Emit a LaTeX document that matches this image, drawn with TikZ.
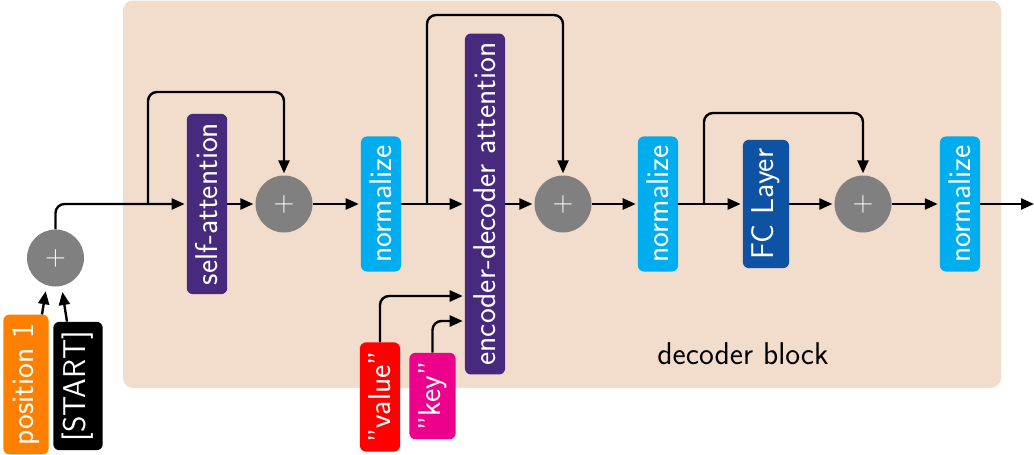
\documentclass[tikz,border=0pt]{standalone}
\usepackage{fontspec}
\usepackage{graphicx}
\usetikzlibrary{arrows.meta,calc}
\definecolor{bgc}{HTML}{F2DCCB}
\definecolor{plusgray}{HTML}{808080}
\definecolor{purp}{HTML}{472A7E}
\definecolor{cyanc}{HTML}{00AEEF}
\definecolor{fcblue}{HTML}{0D52A3}
\definecolor{orangec}{HTML}{FF8000}
\definecolor{redc}{HTML}{FF0000}
\definecolor{magc}{HTML}{EC008C}
\newcommand\rot[1]{\rotatebox{90}{#1}}
\begin{document}
\begin{tikzpicture}[x=1pt,y=-1pt,
  font=\sffamily\fontsize{31.5}{36}\selectfont,
  box/.style={rounded corners=6pt, text=white, inner xsep=9pt, inner ysep=9pt},
  plus/.style={circle, fill=plusgray, minimum size=57pt, inner sep=0pt, text=white, font=\sffamily\fontsize{28.5}{34}\selectfont},
  arr/.style={line width=2.4pt, -{Triangle[length=13pt,width=11pt]}, rounded corners=9pt, shorten >=2pt}]
\useasboundingbox (0,0) rectangle (1034,455);
\fill[bgc, rounded corners=10pt] (123,0.5) rectangle (1001,388);
\node at (743,354) {decoder block};

\node[plus] (p0) at (55.5,258) {+};
\node[box, fill=orangec] (pos) at (26,384.5) {\rot{position 1}};
\node[box, fill=black] (start) at (78,386) {\rot{[START]}};

\node[box, fill=purp] (sa) at (207,204) {\rot{self-attention}};
\node[plus] (c1) at (284,204) {+};
\node[box, fill=cyanc] (n1) at (381,204) {\rot{normalize}};
\node[box, fill=purp] (ed) at (485,204) {\rot{encoder-decoder attention}};
\node[box, fill=redc] (val) at (380,397) {\rot{"value"}};
\node[box, fill=magc] (key) at (432.5,396) {\rot{"key"}};
\node[plus] (c2) at (563,204) {+};
\node[box, fill=cyanc] (n2) at (658,204) {\rot{normalize}};
\node[box, fill=fcblue] (fc) at (766,204) {\rot{FC Layer}};
\node[plus] (c3) at (863,204) {+};
\node[box, fill=cyanc] (n3) at (960,204) {\rot{normalize}};

\coordinate (s1) at (148,204);
\coordinate (s2) at (427,204);
\coordinate (s3) at (704,204);
\coordinate (out) at (1034,204);

\draw[arr, shorten >=6pt] ([xshift=16pt]pos.north) -- (p0.-108);
\draw[arr, shorten >=6pt] ([xshift=-11pt]start.north) -- (p0.-78);
\draw[arr] (p0.north) |- (sa.west);
\draw[arr] (s1) -- (148,92) -| (c1.north);
\draw[arr] (sa.east) -- (c1.west);
\draw[arr] (c1.east) -- (n1.west);
\draw[arr] (n1.east) -- (ed.west);
\draw[arr] (s2) -- (427,15) -| (c2.north);
\draw[arr] (val.north) |- (ed.west |- 0,296);
\draw[arr] (key.north) |- (ed.west |- 0,321);
\draw[arr] (ed.east) -- (c2.west);
\draw[arr] (c2.east) -- (n2.west);
\draw[arr] (n2.east) -- (fc.west);
\draw[arr] (s3) -- (704,113) -| (c3.north);
\draw[arr] (fc.east) -- (c3.west);
\draw[arr] (c3.east) -- (n3.west);
\draw[arr, shorten >=0pt] (n3.east) -- (out);
\end{tikzpicture}
\end{document}
